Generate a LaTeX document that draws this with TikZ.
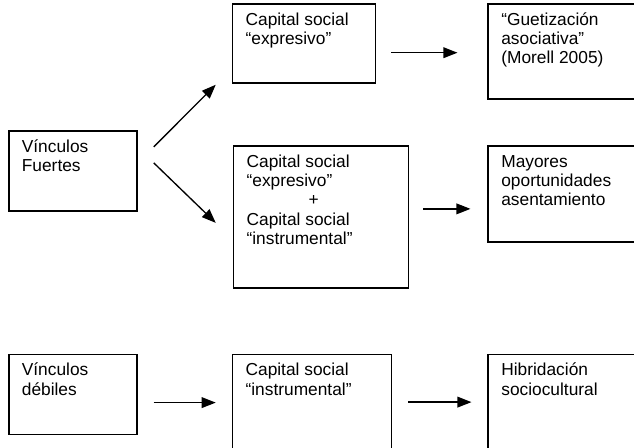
\documentclass[tikz,border=0pt]{standalone}
\usepackage{fontspec}
\setmainfont{Liberation Sans}
\usepackage{tikz}
\usetikzlibrary{positioning}
\usetikzlibrary{arrows.meta}
\usetikzlibrary{calc}

\newcommand{\cajatxt}[3]{\parbox[t][#2][t]{#1}{\raggedright\rule{0pt}{13.5pt}#3}}

\begin{document}
\begin{tikzpicture}[
    caja/.style={draw, line width=1.3pt, inner xsep=9.75pt, inner ysep=2.5pt, font=\fontsize{13}{14.5}\selectfont},
    flecha/.style={-{Triangle[length=10.5pt,width=8pt]}, line width=1pt}]
    \useasboundingbox (0,0) rectangle (475.5pt,-335.25pt);
    \clip (0,0) rectangle (475.5pt,-335.25pt);
    % nodes %
    \node[caja, anchor=north west] (fuertes) at (6pt,-97.5pt) {\cajatxt{76.5pt}{55pt}{Vínculos\\Fuertes}};
    \node[caja, above right=95.25pt and 70.5pt of fuertes.north east, anchor=north west] (expresivo) {\cajatxt{87.75pt}{54.25pt}{Capital social\\“expresivo”}};
    \node[caja, right=83.25pt of expresivo.north east, anchor=north west] (gueto) {\cajatxt{130.5pt}{66.25pt}{“Guetización\\asociativa”\\(Morell 2005)}};
    \node[caja, below right=11.25pt and 71.25pt of fuertes.north east, anchor=north west] (mixto) {\cajatxt{111.75pt}{101.5pt}{Capital social\\“expresivo”\\\hspace*{46.5pt}+\\Capital social\\“instrumental”}};
    \node[caja, right=58.5pt of mixto.north east, anchor=north west] (mayores) {\cajatxt{130.5pt}{67pt}{Mayores\\oportunidades\\asentamiento}};
    \node[caja, below=106.5pt of fuertes] (debiles) {\cajatxt{76.5pt}{55pt}{Vínculos\\débiles}};
    \node[caja, right=70.5pt of debiles.north east, anchor=north west] (instr) {\cajatxt{99.75pt}{66.25pt}{Capital social\\“instrumental”}};
    \node[caja, right=71.25pt of instr.north east, anchor=north west] (hibrid) {\cajatxt{130.5pt}{66.25pt}{Hibridación\\sociocultural}};
    % arrow ends %
    \coordinate (ab0) at ($(fuertes.east)+(12pt,18pt)$);
    \coordinate (ab1) at ($(expresivo.south west)+(-12pt,-0.75pt)$);
    \coordinate (ad0) at ($(fuertes.east)+(12pt,6pt)$);
    \coordinate (ad1) at ($(mixto.west)+(-12.75pt,-4.5pt)$);
    \coordinate (bc0) at ($(expresivo.east)+(11.25pt,-7pt)$);
    \coordinate (bc1) at ($(gueto.west)+(-22.5pt,0pt)$);
    \coordinate (de0) at ($(mixto.east)+(10.5pt,6pt)$);
    \coordinate (de1) at ($(mayores.west)+(-12.75pt,0pt)$);
    \coordinate (fg0) at ($(debiles.east)+(12pt,-6pt)$);
    \coordinate (fg1) at ($(instr.west)+(-12pt,0pt)$);
    \coordinate (gh0) at ($(instr.east)+(12pt,0pt)$);
    \coordinate (gh1) at ($(hibrid.west)+(-12pt,0pt)$);
    % edges %
    \draw[flecha] (ab0) -- (ab1);
    \draw[flecha] (ad0) -- (ad1);
    \draw[flecha] (bc0) -- (bc0 -| bc1);
    \draw[flecha] (de0) -- (de0 -| de1);
    \draw[flecha] (fg0) -- (fg0 -| fg1);
    \draw[flecha] (gh0) -- (gh0 -| gh1);
\end{tikzpicture}
\end{document}
